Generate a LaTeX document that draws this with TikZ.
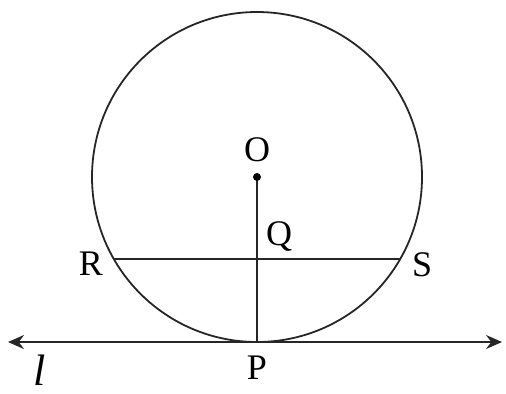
\documentclass[tikz,border=0pt]{standalone}
\usepackage{fontspec}
\setmainfont{Liberation Serif}
\usepackage{tikz}
\usetikzlibrary{positioning, arrows.meta, calc}
\tikzset{
    >=Stealth,
    every node/.style={font=\fontsize{18}{20}\selectfont},
    geo/.style={line width=0.9pt, draw=black!85},
    pointlabel/.style={inner sep=1pt},
}

\begin{document}
\begin{tikzpicture}[x=0.5pt, y=-0.5pt]
    \useasboundingbox (0,0) rectangle (506,393);
    % circle and points
    \coordinate (O) at (257,177);
    \coordinate (P) at (257,342);
    \coordinate (R) at ($(O)+(-143.2,82)$);
    \coordinate (S) at ($(O)+(143.2,82)$);
    \coordinate (Q) at (257,259);
    \coordinate (la) at (8,342);
    \coordinate (lb) at (502,342);

    \draw[geo] (O) circle[radius=165];
    \draw[geo] (R) -- (S);
    \draw[geo] (O) -- (P);
    \draw[geo, {Stealth[length=8pt,width=7pt]}-{Stealth[length=8pt,width=7pt]}] (la) -- (lb);
    \fill (O) circle[radius=4];

    \node[pointlabel] (lO) at (257,150) {O};
    \node[pointlabel] (lQ) at (279,236) {Q};
    \node[pointlabel] (lR) at (91,264) {R};
    \node[pointlabel] (lS) at (422,265) {S};
    \node[pointlabel] (lP) at (257,368) {P};
    \node[pointlabel, font=\fontsize{22}{24}\selectfont] (ll) at (40,370) {\itshape l};
\end{tikzpicture}
\end{document}
